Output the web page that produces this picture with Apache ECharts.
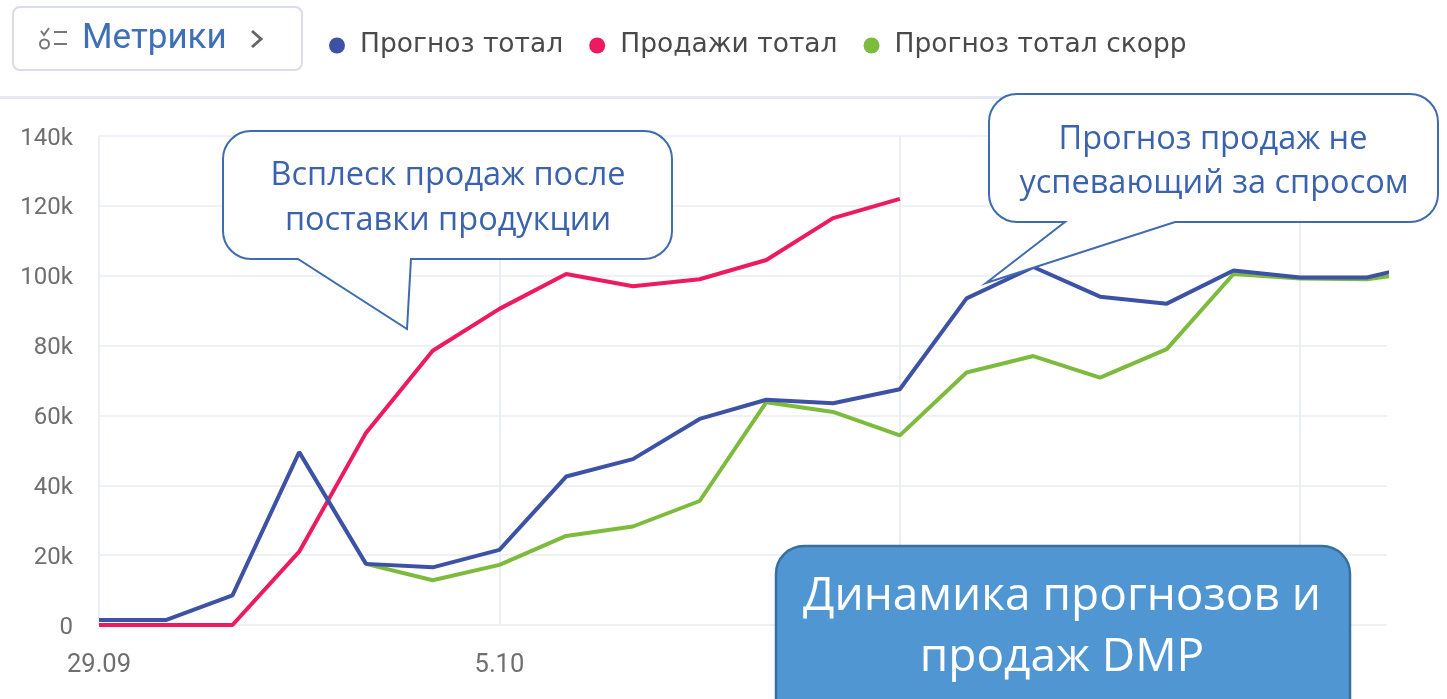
<!DOCTYPE html>
<html><head><meta charset="utf-8">
<style>html,body{margin:0;padding:0;background:#fff}#c{width:1447px;height:699px}</style>
<script src="https://cdn.jsdelivr.net/npm/echarts@6/dist/echarts.min.js"></script>
</head><body><div id="c"></div>
<script>
const dates = ['29.09','30.09','1.10','2.10','3.10','4.10','5.10','6.10','7.10','8.10','9.10','10.10','11.10','12.10','13.10','14.10','15.10','16.10','17.10','18.10','19.10'];
const forecast = [1400,1400,8500,49500,17500,16500,21500,42500,47500,59000,64500,63500,67500,93500,102500,94000,92000,101500,99500,99500,104000];
const sales = [0,0,0,21000,55000,78500,90500,100500,97000,99000,104500,116500,122000];
const corrected = [null,null,null,null,17500,12800,17200,25500,28200,35500,63800,61000,54300,72300,77000,70800,79000,100500,99200,99000,101500];
const names = ['Прогноз тотал','Продажи тотал','Прогноз тотал скорр'];
const colors = ['#3d52a5','#ee1a60','#7dbb3e'];
const toPairs = a => a.map((v,i)=>[i,v]);
const blue='#3a62ad';
const reg=(n,d)=>echarts.graphic.registerShape(n,echarts.graphic.extendPath(d,{}));
reg('iconList','M41 31 L44 35 L49 28 M54 32 H67 M54 44 H67 M40 44 a4.5 4.5 0 1 0 9 0 a4.5 4.5 0 1 0 -9 0');
reg('chev','M252 31 L261 39 L252 47');
reg('call1','M251 131 H644 A28 28 0 0 1 672 159 V231 A28 28 0 0 1 644 259 H411 L407 329 L298 259 H251 A28 28 0 0 1 223 231 V159 A28 28 0 0 1 251 131 Z');
reg('call2','M1017 94 H1410 A28 28 0 0 1 1438 122 V194 A28 28 0 0 1 1410 222 H1175 L986 283 L1065 222 H1017 A28 28 0 0 1 989 194 V122 A28 28 0 0 1 1017 94 Z');
reg('titleBox','M804 546 H1322 A28 28 0 0 1 1350 574 V720 H776 V574 A28 28 0 0 1 804 546 Z');
const chart = echarts.init(document.getElementById('c'),null,{renderer:'canvas'});
const mkLine = (name,data,color,z) => ({name,type:'line',data:toPairs(data),showSymbol:false,symbol:'circle',
  connectNulls:false,z,lineStyle:{width:4,color},itemStyle:{color}});
chart.setOption({
  animation:false,
  grid:{left:99,right:60,top:136,bottom:74,containLabel:false},
  legend:{left:324,top:27,icon:'circle',itemWidth:16,itemHeight:16,itemGap:26,
    textStyle:{fontFamily:'DejaVu Sans',fontSize:26.5,color:'#4a4a4a',padding:[3,0,0,10]},
    data:[names[0],names[1],names[2]]},
  xAxis:{type:'value',min:0,max:19.3,interval:6,
    axisLine:{show:false},axisTick:{show:false},
    axisLabel:{showMaxLabel:false,margin:28,fontFamily:'Roboto',fontSize:25.5,color:'#6f6f6f',
      formatter:v=>dates[v]||''},
    splitLine:{show:true,showMaxLine:false,lineStyle:{color:'#e9eef4',width:2}}},
  yAxis:{type:'value',min:0,max:140000,interval:20000,
    axisLine:{show:false},axisTick:{show:false},
    axisLabel:{margin:26,fontFamily:'Roboto',fontSize:24,color:'#6f6f6f',verticalAlign:'top',lineHeight:5,
      formatter:v=>v===0?'0':(v/1000)+'k'},
    splitLine:{lineStyle:{color:'#eef1f5',width:2}}},
  series:[mkLine(names[2],corrected,colors[2],3),mkLine(names[1],sales,colors[1],4),mkLine(names[0],forecast,colors[0],5)],
  graphic:[
    {type:'line',z:1,shape:{x1:0,y1:97.5,x2:1400,y2:97.5},style:{stroke:'#e6eaf0',lineWidth:3}},
    {type:'rect',z:2,shape:{x:13,y:7,width:289,height:63,r:7},style:{fill:'#fff',stroke:'#d9dde5',lineWidth:2}},
    {type:'text',z:3,style:{x:82,y:39,text:'Метрики',fontFamily:'Roboto',fontSize:35,fill:'#3f6fb8',verticalAlign:'middle'}},
    {type:'iconList',z:3,style:{fill:'none',stroke:'#777',lineWidth:2}},
    {type:'chev',z:3,style:{fill:'none',stroke:'#666',lineWidth:3}},
    {type:'call1',z:10,style:{fill:'#fff',stroke:'#3f6cae',lineWidth:2}},
    {type:'text',z:11,style:{x:448,y:176,text:'Всплеск продаж после',align:'center',verticalAlign:'middle',fontFamily:'Open Sans',fontSize:32.5,fill:blue}},
    {type:'text',z:11,style:{x:448,y:221,text:'поставки продукции',align:'center',verticalAlign:'middle',fontFamily:'Open Sans',fontSize:32.5,fill:blue}},
    {type:'call2',z:10,style:{fill:'#fff',stroke:'#3f6cae',lineWidth:2}},
    {type:'text',z:11,style:{x:1213,y:140,text:'Прогноз продаж не',align:'center',verticalAlign:'middle',fontFamily:'Open Sans',fontSize:32.5,fill:blue}},
    {type:'text',z:11,style:{x:1214,y:184,text:'успевающий за спросом',align:'center',verticalAlign:'middle',fontFamily:'Open Sans',fontSize:32.5,fill:blue}},
    {type:'titleBox',z:12,style:{fill:'#5096d2',stroke:'#36709f',lineWidth:2.5}},
    {type:'text',z:13,style:{x:1062,y:597,text:'Динамика прогнозов и',align:'center',verticalAlign:'middle',fontFamily:'Open Sans',fontSize:46,fill:'#fff'}},
    {type:'text',z:13,style:{x:1062,y:658,text:'продаж DMP',align:'center',verticalAlign:'middle',fontFamily:'Open Sans',fontSize:46,fill:'#fff'}}
  ]
});
</script></body></html>
